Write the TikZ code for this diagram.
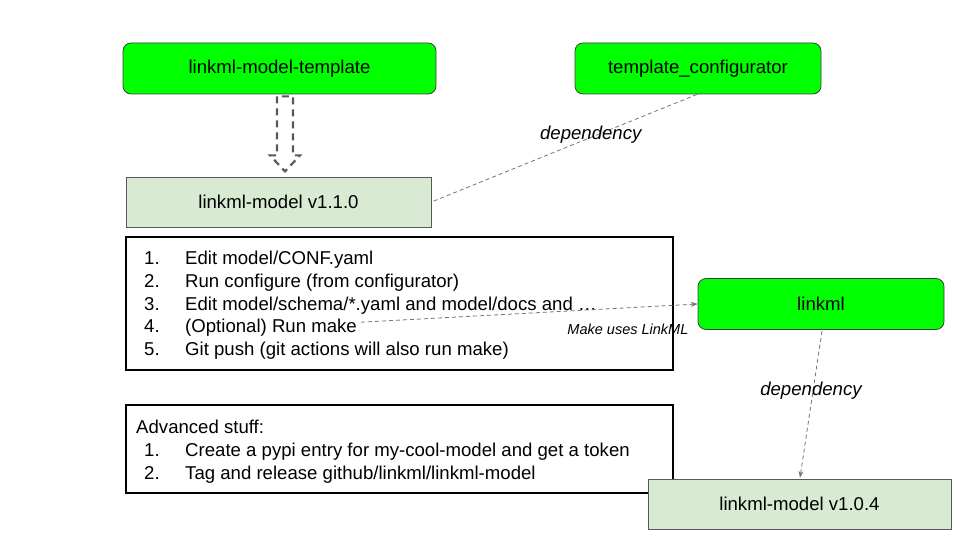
\documentclass[tikz,border=0pt]{standalone}
\usepackage{fontspec}
\setmainfont{Liberation Sans}
\usetikzlibrary{arrows.meta,calc}
\definecolor{brightgreen}{RGB}{0,255,0}
\definecolor{palegreen}{RGB}{217,234,211}
\definecolor{edgegray}{RGB}{89,89,89}

\begin{document}
\begin{tikzpicture}[x=1pt,y=-1pt,>=Stealth,
  greenbox/.style={draw=black!75,fill=brightgreen,rounded corners=8pt,line width=0.8pt,
    minimum width=246pt,minimum height=51pt,font=\fontsize{18.6}{22}\selectfont},
  palebox/.style={draw=edgegray,fill=palegreen,line width=0.8pt,
    minimum width=305pt,minimum height=50pt,font=\fontsize{18.6}{22}\selectfont},
  listbox/.style={draw=black,line width=1.8pt},
  item/.style={anchor=base west,inner sep=0pt,font=\fontsize{18.6}{22}\selectfont},
  dep/.style={draw=gray!90!black,dashed,dash pattern=on 4pt off 3pt,line width=0.8pt},
  deplabel/.style={font=\fontsize{18.6}{22}\selectfont\itshape},
  hollow/.style={draw=edgegray,line width=2.2pt,dash pattern=on 7pt off 5pt}]
\useasboundingbox (0,0) rectangle (960,540);

% Top row
\node[greenbox,minimum width=313pt] (tmpl) at (279.5,68.5) {linkml-model-template};
\node[greenbox] (config) at (698,68.5) {template\_configurator};

% Generated model
\node[palebox] (v110) at (278.5,202) {linkml-model v1.1.0};

% hollow arrow: template -> model
\coordinate (atop) at ($(tmpl.south)+(5.5,2)$);
\draw[hollow] (atop) ++(-8,0) -- ++(0,59) -- ++(-7,0) -- ++(15,16) -- ++(15,-16)
  -- ++(-7,0) -- ++(0,-59) -- cycle;

% Steps
\draw[listbox] (126,237) rectangle (673,370);
\foreach \n/\y in {1/264,2/287,3/310,4/332.5,5/355}
  \node[item] (num\n) at (144,\y) {\n.};
\node[item] (step1) at (185,264) {Edit model/CONF.yaml};
\node[item] (step2) at (185,287) {Run configure (from configurator)};
\node[item] (step3) at (185,310) {Edit model/schema/*.yaml and model/docs and …};
\node[item] (step4) at (185,332.5) {(Optional) Run make};
\node[item] (step5) at (185,355) {Git push (git actions will also run make)};

% Advanced
\draw[listbox] (126,405) rectangle (673,493);
\node[item] (adv) at (136,433) {Advanced stuff:};
\node[item] (anum1) at (144,456.5) {1.};
\node[item] (anum2) at (144,479) {2.};
\node[item] (adv1) at (185,456.5) {Create a pypi entry for my-cool-model and get a token};
\node[item] (adv2) at (185,479) {Tag and release github/linkml/linkml-model};

% LinkML side
\node[greenbox] (linkml) at (821,304) {linkml};
\node[palebox,minimum width=303pt] (v104) at (799.5,504) {linkml-model v1.0.4};

% Dependencies
\draw[dep] ($(config.south)+(-1,0)$) -- (v110.east)
  node[deplabel,pos=0.4,yshift=3pt] {dependency};
\draw[dep,->] ($(step4.east)+(4,-5.5)$) -- (linkml.west)
  node[pos=0.79,xshift=1pt,yshift=-21pt,font=\fontsize{14.5}{17}\selectfont\itshape] {Make uses LinkML};
\draw[dep,->] ($(linkml.south)+(1,1)$) -- ($(v104.north)+(0.5,-1)$)
  node[deplabel,pos=0.41,xshift=-2pt] {dependency};
\end{tikzpicture}
\end{document}
